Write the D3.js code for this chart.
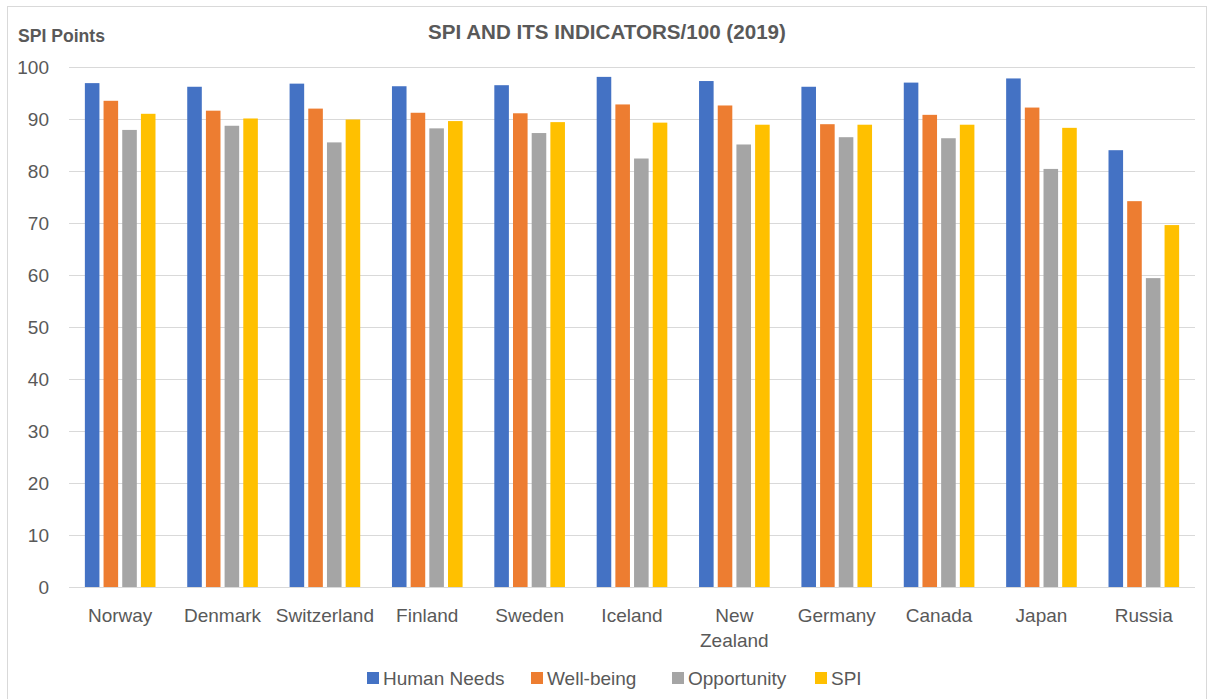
<!DOCTYPE html>
<html>
<head>
<meta charset="utf-8">
<script src="https://cdn.jsdelivr.net/npm/d3@7"></script>
<style>
  body { margin: 0; background: #fff; }
  svg { font-family: "Liberation Sans", Arial, sans-serif; }
</style>
</head>
<body>
<svg id="chart" width="1210" height="699"></svg>
<script>
const countries = ["Norway", "Denmark", "Switzerland", "Finland", "Sweden", "Iceland",
    "New Zealand", "Germany", "Canada", "Japan", "Russia"];
const seriesNames = ["Human Needs", "Well-being", "Opportunity", "SPI"];
const humanNeeds = [96.9, 96.2, 96.8, 96.3, 96.5, 98.1, 97.3, 96.2, 97.0, 97.8, 84.0];
const wellBeing = [93.5, 91.6, 92.0, 91.2, 91.1, 92.8, 92.6, 89.0, 90.8, 92.2, 74.2];
const opportunity = [87.9, 88.7, 85.5, 88.2, 87.3, 82.4, 85.1, 86.5, 86.3, 80.4, 59.4];
const spi = [91.0, 90.1, 89.9, 89.6, 89.4, 89.3, 88.9, 88.9, 88.9, 88.3, 69.6];
const yTicks = [0, 10, 20, 30, 40, 50, 60, 70, 80, 90, 100];
const colors = ["#4472C4", "#ED7D31", "#A5A5A5", "#FFC000"];

const seriesValues = [humanNeeds, wellBeing, opportunity, spi];
const textColor = "#595959";
const gridColor = "#D9D9D9";

const svg = d3.select("#chart");

// outer frame
svg.append("rect")
    .attr("x", 7.5).attr("y", 6.5)
    .attr("width", 1199).attr("height", 720)
    .attr("fill", "none").attr("stroke", gridColor);

const x0 = d3.scaleBand()
    .domain(countries)
    .range([69, 1195])
    .paddingInner(0.31)
    .paddingOuter(0.155);

const x1 = d3.scaleBand()
    .domain(seriesNames)
    .range([0, x0.bandwidth()])
    .paddingInner(0.22);

const y = d3.scaleLinear().domain([0, 100]).range([587, 67]);
const color = d3.scaleOrdinal().domain(seriesNames).range(colors);

// gridlines
svg.append("g")
    .selectAll("line")
    .data(yTicks)
    .join("line")
    .attr("x1", 69).attr("x2", 1195)
    .attr("y1", d => Math.round(y(d)) + 0.5)
    .attr("y2", d => Math.round(y(d)) + 0.5)
    .attr("stroke", gridColor)
    .attr("stroke-width", 1.2);

// y labels
svg.append("g")
    .selectAll("text")
    .data(yTicks)
    .join("text")
    .attr("x", 49)
    .attr("y", d => y(d))
    .attr("dy", "0.36em")
    .attr("text-anchor", "end")
    .attr("fill", textColor)
    .style("font-size", "19px")
    .text(d => d);

// bars
const groups = svg.append("g")
    .selectAll("g")
    .data(countries)
    .join("g")
    .attr("transform", c => `translate(${x0(c)},0)`);

groups.selectAll("rect")
    .data((c, i) => seriesNames.map((s, j) => ({ s, v: seriesValues[j][i] })))
    .join("rect")
    .attr("x", d => x1(d.s))
    .attr("y", d => y(d.v))
    .attr("width", x1.bandwidth())
    .attr("height", d => y(0) - y(d.v))
    .attr("fill", d => color(d.s));

// x labels (wrap "New Zealand")
svg.append("g")
    .selectAll("text")
    .data(countries)
    .join("text")
    .attr("x", c => x0(c) + x0.bandwidth() / 2)
    .attr("y", 621.5)
    .attr("text-anchor", "middle")
    .attr("fill", textColor)
    .style("font-size", "19px")
    .each(function (c) {
        const words = c === "New Zealand" ? c.split(" ") : [c];
        const t = d3.select(this);
        words.forEach((w, i) => {
            t.append("tspan")
                .attr("x", x0(c) + x0.bandwidth() / 2)
                .attr("dy", i === 0 ? 0 : 25)
                .text(w);
        });
    });

// title
svg.append("text")
    .attr("x", 607).attr("y", 39)
    .attr("text-anchor", "middle")
    .attr("fill", textColor)
    .style("font-size", "20.6px")
    .style("font-weight", "bold")
    .text("SPI AND ITS INDICATORS/100 (2019)");

svg.append("text")
    .attr("x", 18).attr("y", 42)
    .attr("fill", textColor)
    .style("font-size", "17.6px")
    .style("font-weight", "bold")
    .text("SPI Points");

// legend
const legendX = [367, 531, 672, 815];
const legend = svg.append("g")
    .selectAll("g")
    .data(seriesNames)
    .join("g")
    .attr("transform", (d, i) => `translate(${legendX[i]},672)`);

legend.append("rect")
    .attr("width", 12).attr("height", 12)
    .attr("fill", d => color(d));

legend.append("text")
    .attr("x", 16).attr("y", 6)
    .attr("dy", "0.36em")
    .attr("fill", textColor)
    .style("font-size", "19px")
    .text(d => d);
</script>
</body>
</html>
